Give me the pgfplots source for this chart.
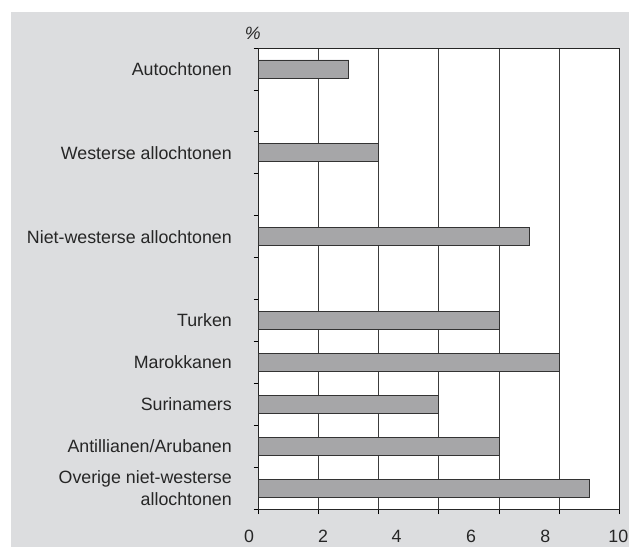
\documentclass[border=0pt]{standalone}
\usepackage{fontspec}
\setmainfont{Liberation Sans}
\usepackage{pgfplots}
\pgfplotsset{compat=1.18}
\definecolor{bg}{RGB}{220,221,223}
\definecolor{barfill}{RGB}{166,166,168}
\definecolor{gridc}{RGB}{60,60,60}
\begin{document}
\fontsize{17.8bp}{22bp}\selectfont
\begin{tikzpicture}[font=\fontsize{17.8bp}{22bp}\selectfont]
\path[use as bounding box] (0,0) rectangle (629bp,-547bp);
\fill[bg] (11bp,-12bp) rectangle (629bp,-547bp);
\begin{axis}[
  at={(258.7bp,-509bp)}, anchor=south west,
  scale only axis, width=360.3bp, height=461bp,
  xmin=0, xmax=12, ymin=0, ymax=11, y dir=reverse,
  xbar, bar width=18bp,
  axis background/.style={fill=white},
  xtick={0,2,...,12}, xticklabels={},
  xmajorgrids, grid style={gridc, line width=0.8bp},
  ytick={0,1,...,11}, yticklabels={},
  xtick pos=bottom, ytick pos=left,
  tick align=outside, major tick length=5bp,
  tick style={black, line width=0.8bp},
  axis line style={black!85, line width=0.8bp},
  extra y ticks={0.5,2.5,4.5,6.5,7.5,8.5,9.5,10.5},
  extra y tick labels={Autochtonen,Westerse allochtonen,Niet-westerse allochtonen,Turken,Marokkanen,Surinamers,Antillianen/Arubanen,{Overige niet-westerse\\allochtonen}},
  extra y tick style={major tick length=0pt, yticklabel style={anchor=east, inner sep=0pt, xshift=-26.7bp, align=right, text depth=0pt, text=black!85}},
  clip=false,
]
\addplot[fill=barfill, draw=black!80, line width=0.8bp] coordinates {
  (3,0.5) (4,2.5) (9,4.5) (8,6.5) (10,7.5) (6,8.5) (8,9.5) (11,10.5)};
\node[yshift=-27bp, text=black!85] at (axis cs:-0.323,11) {0};
\node[yshift=-27bp, text=black!85] at (axis cs:2.143,11) {2};
\node[yshift=-27bp, text=black!85] at (axis cs:4.593,11) {4};
\node[yshift=-27bp, text=black!85] at (axis cs:7.077,11) {6};
\node[yshift=-27bp, text=black!85] at (axis cs:9.543,11) {8};
\node[yshift=-27bp, text=black!85] at (axis cs:11.977,11) {10};
\node[font=\fontsize{17.8bp}{22bp}\selectfont\itshape, xshift=-6bp, yshift=14.5bp, text=black!85] at (axis cs:0,0) {\%};
\end{axis}
\end{tikzpicture}
\end{document}
